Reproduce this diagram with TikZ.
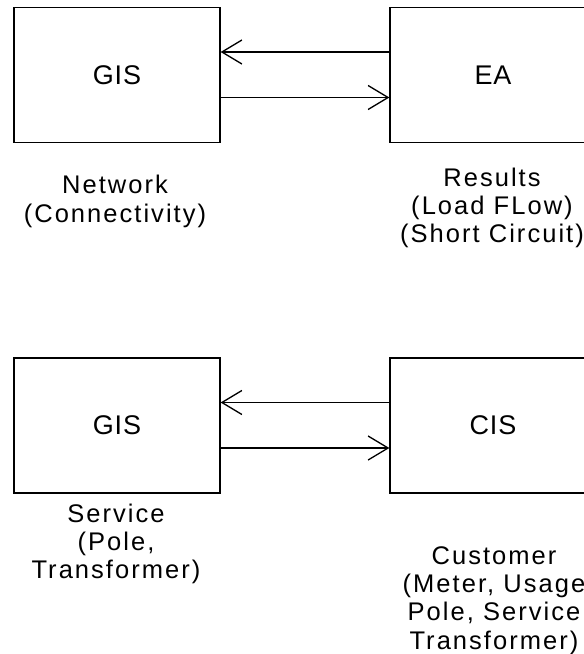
\documentclass[tikz,border=0pt]{standalone}
\usepackage{fontspec}
\newfontfamily\boxfont{Liberation Sans}[LetterSpace=3]
\newfontfamily\notefont{Liberation Sans}[LetterSpace=8]
\usetikzlibrary{arrows.meta, positioning}

\begin{document}
\begin{tikzpicture}[
    x=1pt, y=-1pt,
    every node/.style={align=center},
    sys/.style={rectangle, draw, line width=1.3pt, minimum width=206pt, minimum height=135pt, inner sep=0pt, font=\boxfont\fontsize{27}{31}\selectfont},
    note/.style={inner sep=0pt, font=\notefont\fontsize{25.5}{28.3}\selectfont},
    link/.style={-{Straight Barb[length=20pt, width=24pt]}, line width=1.3pt}
]

% page frame
\path[use as bounding box, clip] (0,0) rectangle (584,654);
\fill[white] (0,0) rectangle (584,654);

% GIS <-> EA
\node[sys] (gisNet) at (117,75) {GIS};
\node[sys] (ea) at (493,75) {EA};
\draw[link] ([yshift=23pt]ea.west) -- ([yshift=23pt]gisNet.east);
\draw[link] ([yshift=-22.5pt]gisNet.east) -- ([yshift=-22.5pt]ea.west);

\node[note] (netNote) at (115,201.5) {Network\\(Connectivity)};
\node[note] (eaNote) at (492,208) {Results\\(Load FLow)\\(Short Circuit)};

% GIS <-> CIS
\node[sys] (gisSvc) at (117,425.5) {GIS};
\node[sys] (cis) at (493,425.5) {CIS};
\draw[link] ([yshift=23pt]cis.west) -- ([yshift=23pt]gisSvc.east);
\draw[link] ([yshift=-22.5pt]gisSvc.east) -- ([yshift=-22.5pt]cis.west);

\node[note] (svcNote) at (116,544) {Service\\(Pole,\\Transformer)};
\node[note] (cisNote) at (494,600.5) {Customer\\(Meter, Usage\\Pole, Service\\Transformer)};

\end{tikzpicture}
\end{document}
